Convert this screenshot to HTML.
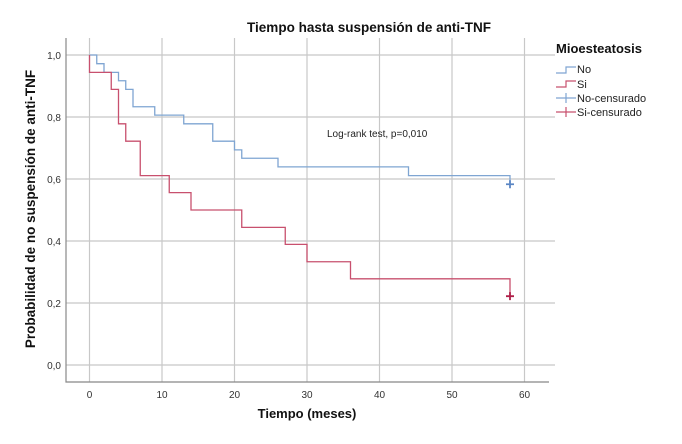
<!DOCTYPE html>
<html><head><meta charset="utf-8"><style>
html,body{margin:0;padding:0;background:#fff;}
svg{display:block;font-family:"Liberation Sans",Arial,sans-serif;}
</style></head><body>
<svg id="chart" width="682" height="444" viewBox="0 0 682 444" xmlns="http://www.w3.org/2000/svg">
<text x="369" y="32" text-anchor="middle" font-size="13.5" font-weight="bold" fill="#111" textLength="244" lengthAdjust="spacingAndGlyphs">Tiempo hasta suspensión de anti-TNF</text>
<g id="grid"></g>
<g id="axes"></g>
<g id="series"></g>
<text x="307" y="418" text-anchor="middle" font-size="13" font-weight="bold" fill="#111">Tiempo (meses)</text>
<text transform="translate(35,209) rotate(-90)" text-anchor="middle" font-size="13.5" font-weight="bold" fill="#111">Probabilidad de no suspensión de anti-TNF</text>
<text x="327" y="137" font-size="10" fill="#222">Log-rank test, p=0,010</text>
<g>
<text x="556" y="53" font-size="13" font-weight="bold" fill="#111">Mioesteatosis</text>
<g><path d="M556 73 H566 V67 H576" fill="none" stroke="#7fa5d2" stroke-width="1.2"/><text x="577" y="73" font-size="11" fill="#222">No</text></g>
<g><path d="M556 87 H566 V81 H576" fill="none" stroke="#c8506e" stroke-width="1.2"/><text x="577" y="88" font-size="11" fill="#222">Si</text></g>
<g><path d="M556 98 H576 M566 93 V103" stroke="#7fa5d2" stroke-width="1.2"/><text x="577" y="102" font-size="11" fill="#222">No-censurado</text></g>
<g><path d="M556 112 H576 M566 107 V117" stroke="#c8506e" stroke-width="1.2"/><text x="577" y="116" font-size="11" fill="#222">Si-censurado</text></g>
</g>
</svg>
<script>
const xTicks=[0,10,20,30,40,50,60];
const yTicks=[0,0.2,0.4,0.6,0.8,1.0];
const yTickLabels=["0,0","0,2","0,4","0,6","0,8","1,0"];
const noTimes=[0,1,2,4,5,6,9,13,17,20,21,26,44,58];
const noSurv=[1.0,0.972,0.944,0.917,0.889,0.833,0.806,0.778,0.722,0.694,0.667,0.639,0.611,0.583];
const siTimes=[0,0,3,4,5,7,11,14,21,27,30,36,58];
const siSurv=[1.0,0.944,0.889,0.778,0.722,0.611,0.556,0.5,0.444,0.389,0.333,0.278,0.222];
const noCensorT=[58], noCensorS=[0.583];
const siCensorT=[58], siCensorS=[0.222];
const NS="http://www.w3.org/2000/svg";
const X=t=>89.5+t*7.25, Y=s=>365-s*310;
function mk(tag,attrs,parent){const e=document.createElementNS(NS,tag);for(const k in attrs)e.setAttribute(k,attrs[k]);parent.appendChild(e);return e;}
const grid=document.getElementById('grid'),axes=document.getElementById('axes'),ser=document.getElementById('series');
xTicks.forEach(t=>{const l=mk('line',{x1:X(t),x2:X(t),y1:38,y2:382,stroke:'#c8c8c8','stroke-width':1.2},grid);

const tx=mk('text',{x:X(t),y:398,'text-anchor':'middle','font-size':10,fill:'#333'},axes);tx.textContent=t;
});
yTicks.forEach((v,i)=>{const l=mk('line',{x1:66,x2:555,y1:Y(v),y2:Y(v),stroke:'#c8c8c8','stroke-width':1.2},grid);

const tx=mk('text',{x:61,y:Y(v)+4,'text-anchor':'end','font-size':10,fill:'#333'},axes);tx.textContent=yTickLabels[i];
});
const ax=mk('path',{d:'M66 38 V382 H549',fill:'none',stroke:'#888','stroke-width':1.2},axes);

function step(times,surv,color,name){let d='M'+X(times[0])+' '+Y(surv[0]);
for(let i=1;i<times.length;i++){d+=' H'+X(times[i])+' V'+Y(surv[i]);}
const p=mk('path',{d:d,fill:'none',stroke:color,'stroke-width':1.3},ser);
}
function cens(ts,ss,color,name){ts.forEach((t,i)=>{const p=mk('path',{d:`M${X(t)-4} ${Y(ss[i])} H${X(t)+4} M${X(t)} ${Y(ss[i])-4} V${Y(ss[i])+4}`,stroke:color,'stroke-width':1.8},ser);
});}
step(noTimes,noSurv,'#7fa5d2','no-curve');
step(siTimes,siSurv,'#c8506e','si-curve');
cens(noCensorT,noCensorS,'#5b86c4','no-censor-mark');
cens(siCensorT,siCensorS,'#b0204a','si-censor-mark');
</script>
</body></html>
